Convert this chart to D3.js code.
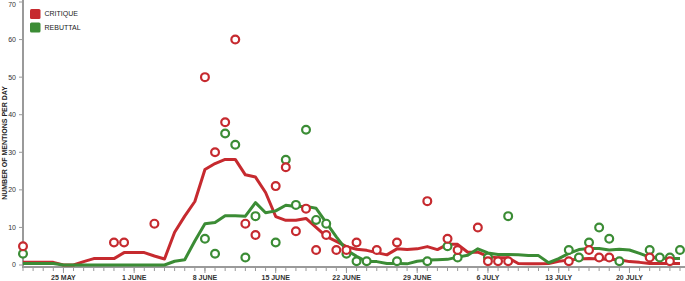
<!DOCTYPE html>
<html><head><meta charset="utf-8">
<script src="https://cdn.jsdelivr.net/npm/d3@7"></script>
<style>
body{margin:0;background:#fff}
svg{display:block}
text{font-family:"Liberation Sans",Arial,Helvetica,sans-serif}
</style>
</head><body>
<svg id="chart" width="685" height="281"></svg>
<script>
// ---- data ----
const firstDay = "2014-05-21";
const lastDay = "2014-07-25";
const seriesNames = ["CRITIQUE", "REBUTTAL"];
const seriesColors = ["#c62a2f", "#3b8c35"];
// daily mentions (null = no mention that day)
const critique = [5,null,null,null,null,null,null,null,null,6,6,null,null,11,null,null,null,null,50,30,38,60,11,8,null,21,26,9,15,4,8,4,4,6,null,4,null,6,null,null,17,null,7,4,null,10,1,1,1,null,null,null,null,null,1,null,4,2,2,null,null,null,2,null,1,null];
const rebuttal = [3,null,null,null,null,null,null,null,null,null,null,null,null,null,null,null,null,null,7,3,35,32,2,13,null,6,28,16,36,12,11,null,3,1,1,null,null,1,null,null,1,null,5,2,null,null,2,null,13,null,null,null,null,null,4,2,6,10,7,1,null,null,4,2,2,4];
// smoothed trend lines
const critiqueTrend = [0.7,0.7,0.7,0.7,0,0,0.9,1.7,1.7,1.7,3.3,3.3,3.3,2.4,1.6,8.7,13,16.9,25.4,27,28.1,28.1,24,23.4,19.3,12.9,11.9,11.9,12.4,10,7.6,6.3,4.9,4.2,3.9,3.3,2.7,4.3,4.1,4.3,4.9,4.1,5.5,5.5,3.4,3.4,2.3,1.9,1.9,0.4,0.3,0.3,0.4,1,1.3,1.6,1.7,1.6,1.5,1.4,0.9,0.7,0.4,0.4,0.4,0.4];
const rebuttalTrend = [0.4,0.4,0.4,0.4,0,0,0,0,0,0,0,0,0,0,0,1,1.4,6.4,11,11.3,13.1,13.1,13,16.6,13.9,14.4,15.9,15.6,15.6,15.1,11.3,7.5,4,2.3,0.9,0.9,0.4,0.4,0.3,1,1.3,1.4,1.5,2.1,2.6,4.3,3.2,2.8,2.8,2.7,2.5,2.5,0.6,1.7,3.1,4.1,4.4,4.4,4,4.2,4,3.1,2.1,1.8,1.7,1.7];
const xTickDates = ["2014-05-25","2014-06-01","2014-06-08","2014-06-15","2014-06-22","2014-06-29","2014-07-06","2014-07-13","2014-07-20"];
const xTickLabels = ["25 MAY","1 JUNE","8 JUNE","15 JUNE","22 JUNE","29 JUNE","6 JULY","13 JULY","20 JULY"];
const yTicks = [0,10,20,30,40,50,60,70];
const yTitle = "NUMBER OF MENTIONS PER DAY";

// ---- chart ----
const svg = d3.select("#chart");
const parse = d3.utcParse("%Y-%m-%d");
const d0 = parse(firstDay), d1 = parse(lastDay);
const days = d3.utcDay.range(d0, d3.utcDay.offset(d1, 1));

const x = d3.scaleUtc().domain([d0, d1]).range([23, 680]);
const y = d3.scaleLinear().domain([0, 70]).range([265, 2]);

// y axis
const yAxisG = svg.append("g").attr("transform", "translate(23,0)");
yAxisG.append("line").attr("x1",0).attr("x2",0).attr("y1",0).attr("y2",268)
  .attr("stroke","#9a9a9a").attr("stroke-width",2);
yAxisG.selectAll("line.tk").data(yTicks).join("line").attr("class","tk")
  .attr("x1",-4).attr("x2",0).attr("y1",d=>y(d)).attr("y2",d=>y(d))
  .attr("stroke","#9a9a9a").attr("stroke-width",1);
yAxisG.selectAll("text").data(yTicks).join("text")
  .attr("x",-7).attr("y",d=>Math.max(y(d), 4.5)).attr("dy","0.35em")
  .attr("text-anchor","end").attr("font-size",7).attr("fill","#333")
  .text(d=>d);

svg.append("text")
  .attr("transform","translate(5,143) rotate(-90)")
  .attr("text-anchor","middle").attr("dy","0.35em")
  .attr("font-size",7).attr("font-weight","bold").attr("fill","#222")
  .text(yTitle);

// x axis
const xAxisG = svg.append("g").attr("transform","translate(0,267)");
xAxisG.append("line").attr("x1",22).attr("x2",685).attr("y1",0).attr("y2",0)
  .attr("stroke","#9a9a9a").attr("stroke-width",2);
xAxisG.selectAll("line.tk").data(days).join("line").attr("class","tk")
  .attr("x1",d=>x(d)).attr("x2",d=>x(d)).attr("y1",0).attr("y2",4)
  .attr("stroke","#9a9a9a").attr("stroke-width",1);
const majors = xTickDates.map(parse);
xAxisG.selectAll("line.mj").data(majors).join("line").attr("class","mj")
  .attr("x1",d=>x(d)).attr("x2",d=>x(d)).attr("y1",0).attr("y2",6)
  .attr("stroke","#9a9a9a").attr("stroke-width",1);
xAxisG.selectAll("text").data(majors).join("text")
  .attr("x",d=>x(d)).attr("y",13)
  .attr("text-anchor","middle").attr("font-size",7).attr("font-weight","bold").attr("fill","#333")
  .text((d,i)=>xTickLabels[i]);

// lines
const line = d3.line().x((d,i)=>x(days[i])).y(d=>y(d));
const trends = [critiqueTrend, rebuttalTrend];
const daily = [critique, rebuttal];
[0,1].forEach(s=>{
  svg.append("path").datum(trends[s]).attr("d",line)
    .attr("fill","none").attr("stroke",seriesColors[s]).attr("stroke-width",3)
    .attr("stroke-linejoin","round");
});
// points (rebuttal under critique)
[1,0].forEach(s=>{
  const pts = daily[s].map((v,i)=>({v,date:days[i]})).filter(p=>p.v!=null);
  svg.append("g").selectAll("circle").data(pts).join("circle")
    .attr("cx",p=>x(p.date)).attr("cy",p=>y(p.v)).attr("r",3.9)
    .attr("fill","#fff").attr("stroke",seriesColors[s]).attr("stroke-width",2.2);
});

// legend
const lg = svg.append("g").attr("transform","translate(30,9)");
seriesNames.forEach((n,i)=>{
  lg.append("rect").attr("x",0).attr("y",i*13.5).attr("width",10.5).attr("height",10)
    .attr("rx",1.5).attr("fill",seriesColors[i]);
  lg.append("text").attr("x",14.5).attr("y",i*13.5+5).attr("dy","0.35em")
    .attr("font-size",7).attr("fill","#222").text(n);
});
</script>
</body></html>
